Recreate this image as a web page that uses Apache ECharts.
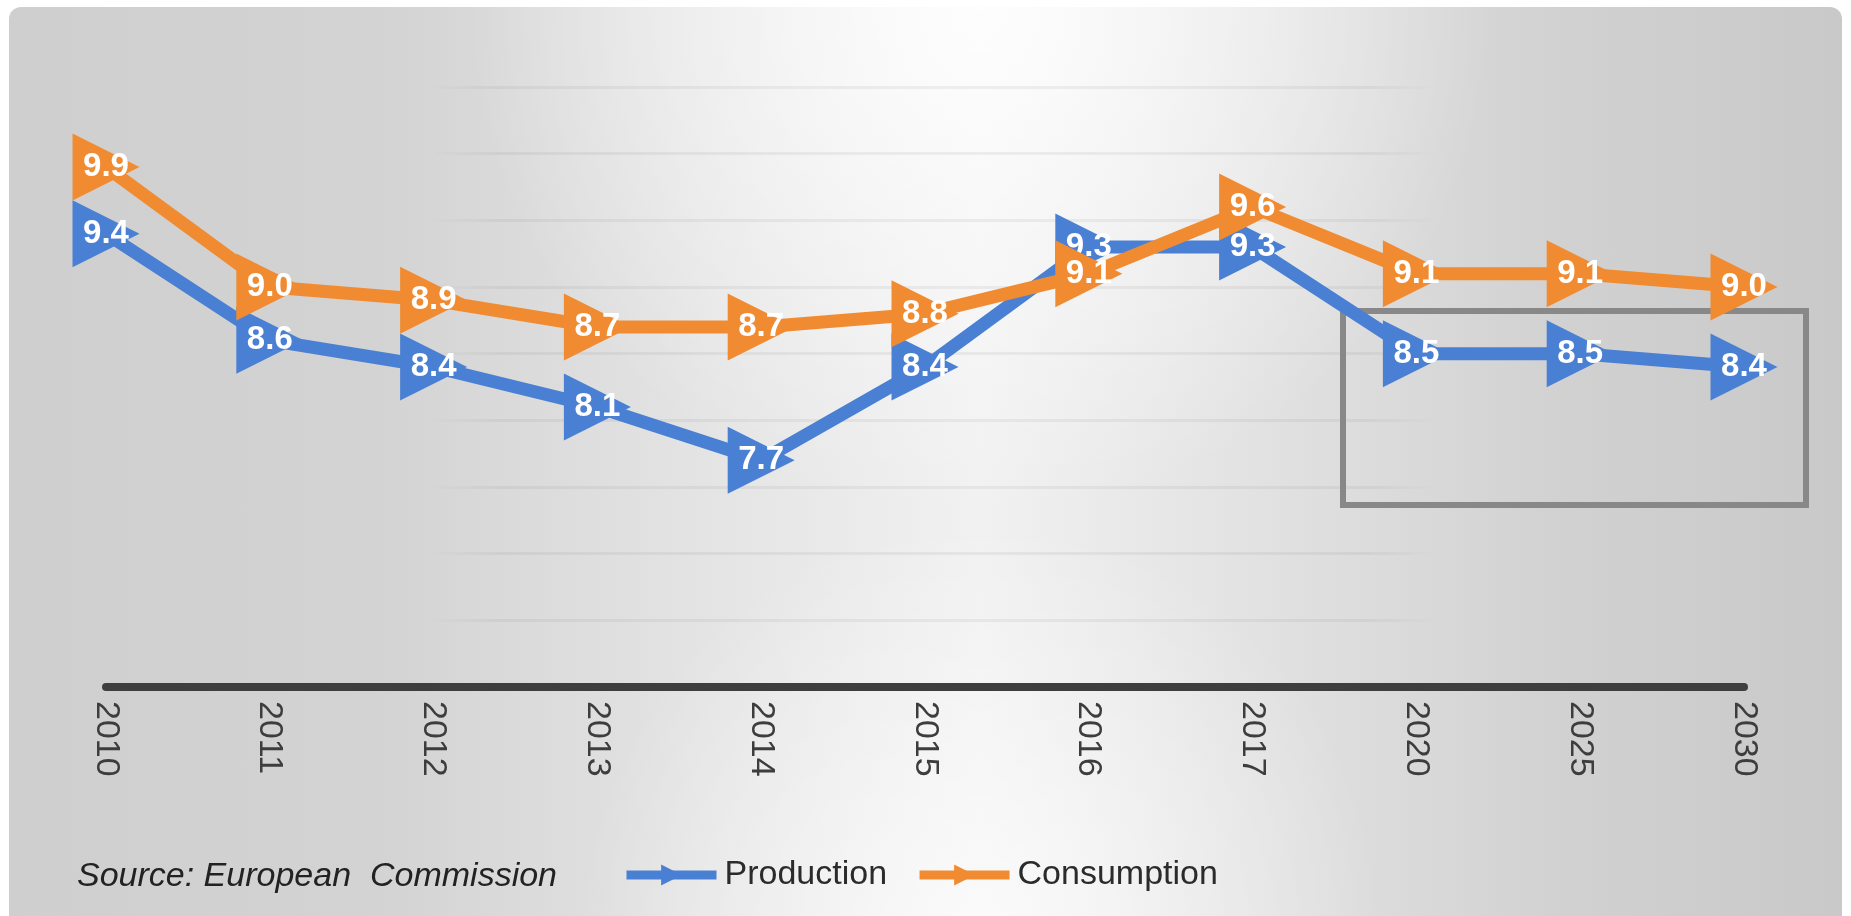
<!DOCTYPE html>
<html>
<head>
<meta charset="utf-8">
<script src="https://cdn.jsdelivr.net/npm/echarts@6/dist/echarts.min.js"></script>
<style>
  html, body { margin: 0; padding: 0; background: #ffffff; }
  #card {
    position: absolute; left: 9px; top: 7px; width: 1833px; height: 930px;
    border-radius: 12px;
    background:
      radial-gradient(ellipse 28% 55% at 53% 0%, rgba(255,255,255,0.9), rgba(255,255,255,0) 100%),
      radial-gradient(ellipse 22% 45% at 53% 100%, rgba(255,255,255,0.7), rgba(255,255,255,0) 100%),
      linear-gradient(90deg, #cfcfcf 0%, #d3d3d3 20%, #e4e4e4 38%, #f1f1f1 53%, #e2e2e2 68%, #d1d1d1 85%, #c9c9c9 100%);
  }
  #chart { position: absolute; left: 0; top: 0; width: 1851px; height: 916px; }
</style>
</head>
<body>
<div id="card"></div>
<div id="chart"></div>
<script>
const categories = ['2010', '2011', '2012', '2013', '2014', '2015', '2016', '2017', '2020', '2025', '2030'];
const production = [9.4, 8.6, 8.4, 8.1, 7.7, 8.4, 9.3, 9.3, 8.5, 8.5, 8.4];
const consumption = [9.9, 9.0, 8.9, 8.7, 8.7, 8.8, 9.1, 9.6, 9.1, 9.1, 9.0];
const seriesNames = ['Production', 'Consumption'];
const sourceText = 'Source: European  Commission';

const BLUE = '#4A80D3';
const ORANGE = '#F18B32';
const FONT = 'Liberation Sans, Arial, sans-serif';

const chart = echarts.init(document.getElementById('chart'), null, { renderer: 'canvas' });

function lineSeries(name, data, color, z) {
  return {
    name: name,
    type: 'line',
    data: data,
    z: z,
    symbol: 'triangle',
    symbolSize: 67,
    symbolRotate: -90,
    showAllSymbol: true,
    lineStyle: { color: color, width: 13 },
    itemStyle: { color: color },
    label: {
      show: true,
      position: 'inside',
      color: '#ffffff',
      fontFamily: FONT,
      fontWeight: 'bold',
      fontSize: 33,
      formatter: function (p) { return p.value.toFixed(1); }
    },
    emphasis: { disabled: true },
    animation: false
  };
}

const gridGradient = new echarts.graphic.LinearGradient(0, 0, 1, 0, [
  { offset: 0, color: 'rgba(120,120,120,0)' },
  { offset: 0.2, color: 'rgba(120,120,120,0)' },
  { offset: 0.24, color: 'rgba(120,120,120,0.10)' },
  { offset: 0.77, color: 'rgba(120,120,120,0.10)' },
  { offset: 0.81, color: 'rgba(120,120,120,0)' },
  { offset: 1, color: 'rgba(120,120,120,0)' }
]);

const option = {
  backgroundColor: 'transparent',
  animation: false,
  grid: { left: 106, right: 107, top: 87, bottom: 229, containLabel: false },
  xAxis: {
    type: 'category',
    data: categories,
    boundaryGap: false,
    axisLine: { show: true, lineStyle: { color: '#3e3e3e', width: 8 } },
    axisTick: { show: false },
    axisLabel: {
      rotate: -90,
      margin: 14,
      fontSize: 34,
      color: '#3d3d3d',
      fontFamily: FONT
    },
    splitLine: { show: false }
  },
  yAxis: {
    type: 'value',
    min: 6,
    max: 10.5,
    interval: 0.5,
    axisLine: { show: false },
    axisTick: { show: false },
    axisLabel: { show: false },
    splitLine: { show: true, lineStyle: { color: gridGradient, width: 3 } }
  },
  legend: {
    data: seriesNames,
    left: 622,
    top: 858,
    padding: 0,
    itemWidth: 90,
    itemHeight: 26,
    itemGap: 28,
    symbolRotate: 'inherit',
    lineStyle: { width: 9 },
    textStyle: { fontSize: 34, color: '#2b2b2b', fontFamily: FONT, padding: [0, 0, 0, 3] }
  },
  graphic: [
    {
      type: 'text',
      x: 77,
      y: 877,
      style: {
        text: sourceText,
        fontSize: 34,
        fontStyle: 'italic',
        fontFamily: FONT,
        fill: '#222222',
        verticalAlign: 'middle'
      }
    },
    {
      type: 'rect',
      z: 1,
      shape: { x: 1343, y: 311, width: 463, height: 194 },
      style: { fill: 'rgba(0,0,0,0)', stroke: '#888888', lineWidth: 6 }
    }
  ],
  series: [
    lineSeries(seriesNames[0], production, BLUE, 3),
    lineSeries(seriesNames[1], consumption, ORANGE, 4)
  ]
};

chart.setOption(option);
</script>
</body>
</html>
